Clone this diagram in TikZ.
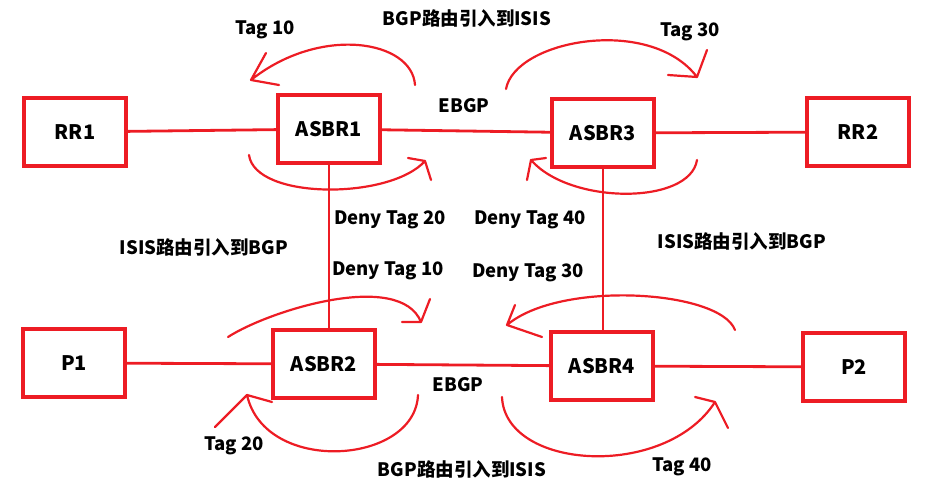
\documentclass[tikz,border=0pt]{standalone}
\usepackage{fontspec}
\setmainfont{Noto Sans CJK SC}
\definecolor{penred}{RGB}{237,28,36}

\begin{document}
\begin{tikzpicture}[x=1pt,y=-1pt,
  box/.style={draw=penred,line width=3.2pt,minimum width=102pt,minimum height=68pt,inner sep=0pt,font=\fontsize{20}{22}\selectfont\bfseries},
  link/.style={draw=penred,line width=2.8pt},
  swirl/.style={draw=penred,line width=2.2pt,line cap=round,line join=round},
  lbl/.style={inner sep=0pt,font=\fontsize{18.5}{21}\selectfont\bfseries}]
\useasboundingbox (0,0) rectangle (950,489);
% routers
\node[box] (rr1) at (75,132) {RR1};
\node[box] (asbr1) at (329,129) {ASBR1};
\node[box] (asbr3) at (603,133) {ASBR3};
\node[box] (rr2) at (858,132) {RR2};
\node[box] (p1) at (74,363) {P1};
\node[box] (asbr2) at (324,364) {ASBR2};
\node[box] (asbr4) at (602,366) {ASBR4};
\node[box] (p2) at (854,367) {P2};
% links
\draw[link] (rr1) -- (asbr1);
\draw[link] (asbr1) -- (asbr3);
\draw[link] (asbr3) -- (rr2);
\draw[link] (p1) -- (asbr2);
\draw[link] (asbr2) -- (asbr4);
\draw[link] (asbr4) -- (p2);
\draw[link] (asbr1.south) -- (asbr1.south |- asbr2.north);
\draw[link] (asbr3.south) -- (asbr3.south |- asbr4.north);
% redistribution arrows
\draw[swirl] (415,85) .. controls (412,40) and (320,25) .. (251,80) -- (266,53) (251,80) -- (279,85);
\draw[swirl] (249,155) .. controls (255,200) and (390,200) .. (425,161) -- (408,158) (425,161) -- (431,180);
\draw[swirl] (506,89) .. controls (515,40) and (650,15) .. (697,77) -- (668,75) (697,77) -- (707,50);
\draw[swirl] (697,160) .. controls (690,205) and (570,205) .. (531,160) -- (546,158) (531,160) -- (527,180);
\draw[swirl] (228,337) .. controls (270,310) and (400,270) .. (421,322) -- (402,322) (421,322) -- (430,299);
\draw[swirl] (418,395) .. controls (415,465) and (265,475) .. (247,395) -- (272,402) (247,395) -- (215,427);
\draw[swirl] (735,330) .. controls (720,290) and (560,280) .. (507,325) -- (542,337) (507,325) -- (515,305);
\draw[swirl] (502,397) .. controls (505,470) and (665,480) .. (715,402) -- (695,397) (715,402) -- (728,428);
% labels
\node[lbl] (bgpisistop) at (467,18) {BGP路由引入到ISIS};
\node[lbl] (tag10) at (265,30) {Tag 10};
\node[lbl] (tag30) at (690,32) {Tag 30};
\node[lbl] (ebgptop) at (464,106) {EBGP};
\node[lbl] (deny20) at (390,220) {Deny Tag 20};
\node[lbl] (deny40) at (530,220) {Deny Tag 40};
\node[lbl] (isisbgpleft) at (204,247) {ISIS路由引入到BGP};
\node[lbl] (isisbgpright) at (742,241) {ISIS路由引入到BGP};
\node[lbl] (deny10) at (388,271) {Deny Tag 10};
\node[lbl] (deny30) at (528,273) {Deny Tag 30};
\node[lbl] (ebgpbottom) at (458,385) {EBGP};
\node[lbl] (tag20) at (234,446) {Tag 20};
\node[lbl] (bgpisisbottom) at (462,469) {BGP路由引入到ISIS};
\node[lbl] (tag40) at (682,467) {Tag 40};
\end{tikzpicture}
\end{document}
